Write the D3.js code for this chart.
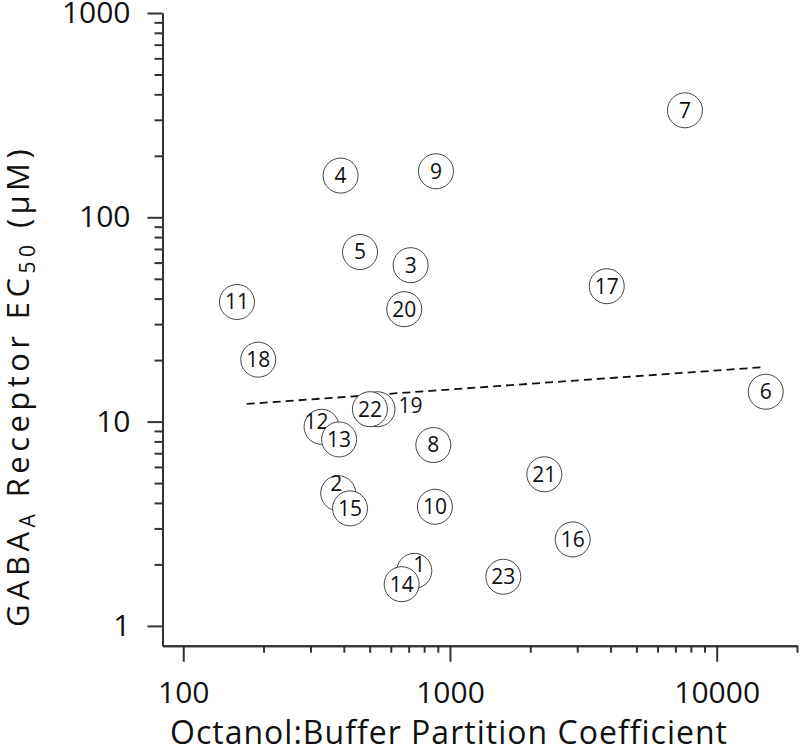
<!DOCTYPE html>
<html>
<head>
<meta charset="utf-8">
<script src="https://cdn.jsdelivr.net/npm/d3@7"></script>
<style>
  body { margin: 0; background: #fff; }
  text { font-family: "Open Sans", sans-serif; fill: #111; }
</style>
</head>
<body>
<script>
// compound number, partition coefficient, EC50 (uM)
const ids = [1, 2, 3, 4, 5, 6, 7, 8, 9, 10, 11, 12, 13, 14, 15, 16, 17, 18, 19, 20, 21, 22, 23]
const partition = [735, 381, 712, 389, 460, 15270, 7600, 866, 886, 878, 159, 330, 384, 659, 422, 2884, 3870, 191, 535, 674, 2258, 501, 1585]
const ec50 = [1.86, 4.46, 58.3, 160, 67.6, 14.0, 334, 7.68, 168, 3.83, 38.5, 9.43, 8.18, 1.60, 3.76, 2.65, 46, 20.1, 11.5, 35.5, 5.52, 11.5, 1.74]

// dashed fit line ends
const fitX = [173, 15200]
const fitY = [12.2, 18.5]

const xMajor = [100, 1000, 10000]
const xMinor = [200, 300, 400, 500, 600, 700, 800, 900, 2000, 3000, 4000, 5000, 6000, 7000, 8000, 9000, 20000]
const yMajor = [1, 10, 100, 1000]
const yMinor = [2, 3, 4, 5, 6, 7, 8, 9, 20, 30, 40, 50, 60, 70, 80, 90, 200, 300, 400, 500, 600, 700, 800, 900]

// labels that were nudged off their circle
const labelShift = {1: [5, -6], 2: [-2, -10], 12: [-5, -5], 19: [33, -4]}

const width = 800
const height = 744

const x = d3.scaleLog().domain([83.6, 20000]).range([162.5, 797])
const y = d3.scaleLog().domain([0.8, 1000]).range([645.7, 13])

const svg = d3.select('body').append('svg')
  .attr('width', width)
  .attr('height', height)

function styleAxis(g) {
  g.select('.domain').attr('stroke', '#333').attr('stroke-width', 2)
  g.selectAll('.tick line').attr('stroke', '#333').attr('stroke-width', 2)
  g.selectAll('.tick text').style('font-size', '30px').attr('fill', '#111')
}

// y axis
svg.append('g')
  .attr('transform', 'translate(162.5,0)')
  .call(d3.axisLeft(y).tickValues(yMinor).tickSize(8).tickFormat('').tickSizeOuter(0))
  .call(styleAxis)
svg.append('g')
  .attr('transform', 'translate(162.5,0)')
  .call(d3.axisLeft(y).tickValues(yMajor).tickSize(15).tickPadding(17).tickFormat(d3.format('d')).tickSizeOuter(0))
  .call(styleAxis)

// x axis
svg.append('g')
  .attr('transform', 'translate(0,645.7)')
  .call(d3.axisBottom(x).tickValues(xMinor).tickSize(7).tickFormat('').tickSizeOuter(0))
  .call(styleAxis)
svg.append('g')
  .attr('transform', 'translate(0,645.7)')
  .call(d3.axisBottom(x).tickValues(xMajor).tickSize(16).tickPadding(20).tickFormat(d3.format('d')).tickSizeOuter(0))
  .call(styleAxis)

// stretch a title to the length it has in the original
function fitSpacing(sel, target) {
  const w = sel.node().getBBox().width
  const n = sel.text().length
  sel.style('letter-spacing', ((target - w) / n) + 'px')
}

// titles
const xt = svg.append('text')
  .attr('x', 449)
  .attr('y', 744)
  .attr('text-anchor', 'middle')
  .style('font-size', '32px')
  .text('Octanol:Buffer Partition Coefficient')
fitSpacing(xt, 558)

const yt = svg.append('text')
  .attr('transform', 'translate(29,386) rotate(-90)')
  .attr('text-anchor', 'middle')
  .style('font-size', '31px')
yt.append('tspan').text('GABA')
yt.append('tspan').text('A').attr('dy', 6).style('font-size', '0.68em')
yt.append('tspan').text(' Receptor EC').attr('dy', -6)
yt.append('tspan').text('50').attr('dy', 6).style('font-size', '0.68em')
yt.append('tspan').text(' (μM)').attr('dy', -6)
fitSpacing(yt, 482)

// fit line
svg.append('line')
  .attr('x1', x(fitX[0])).attr('y1', y(fitY[0]))
  .attr('x2', x(fitX[1])).attr('y2', y(fitY[1]))
  .attr('stroke', '#111')
  .attr('stroke-width', 1.8)
  .attr('stroke-dasharray', '8,5')

// points
const points = ids.map((id, i) => ({id, px: partition[i], ec: ec50[i]}))

const pt = svg.append('g').selectAll('g')
  .data(points)
  .join('g')
  .attr('transform', d => `translate(${x(d.px)},${y(d.ec)})`)

pt.append('circle')
  .attr('r', 17.5)
  .attr('fill', '#fff')
  .attr('stroke', '#444')
  .attr('stroke-width', 1)

pt.append('text')
  .attr('x', d => (labelShift[d.id] || [0, 0])[0])
  .attr('y', d => (labelShift[d.id] || [0, 0])[1])
  .attr('dy', '0.35em')
  .attr('text-anchor', 'middle')
  .style('font-size', '21px')
  .text(d => d.id)
</script>
</body>
</html>
